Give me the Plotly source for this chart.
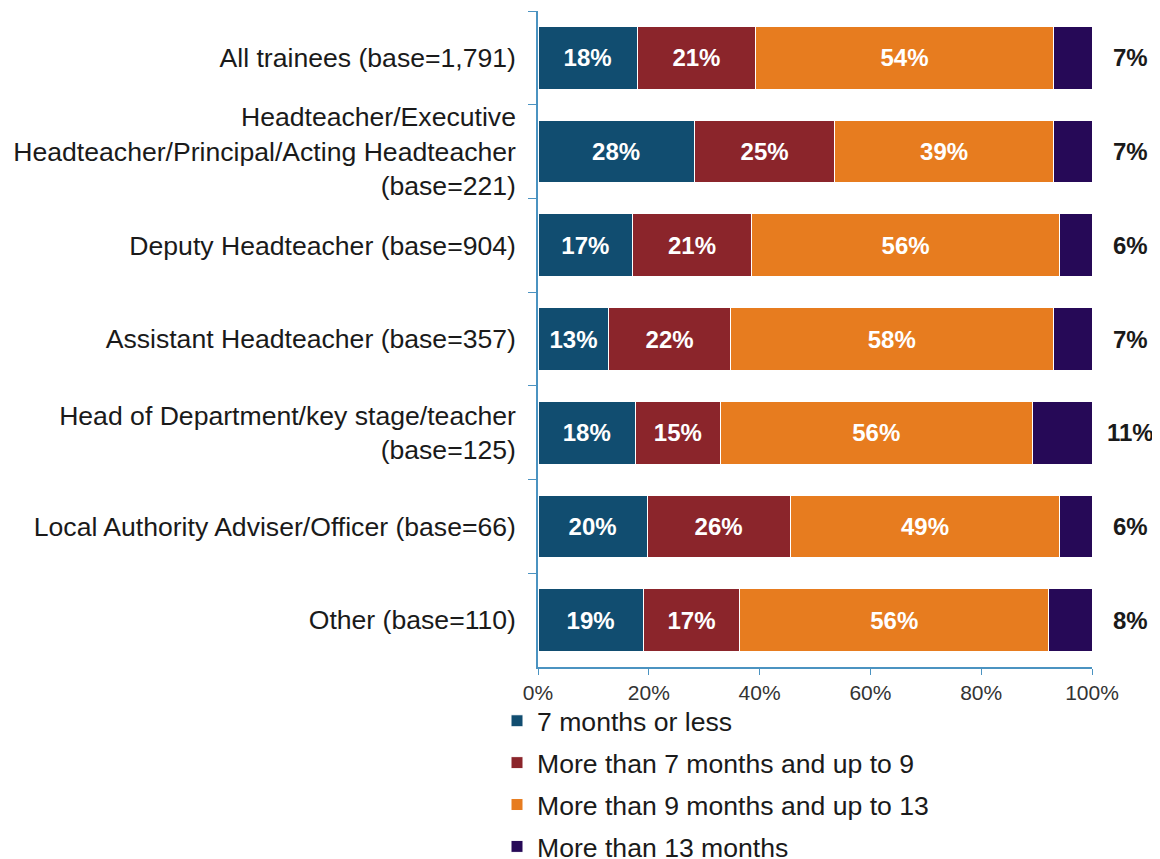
import plotly.graph_objects as go

categories = [
    "All trainees (base=1,791)",
    "Headteacher/Executive<br>Headteacher/Principal/Acting Headteacher<br>(base=221)",
    "Deputy Headteacher (base=904)",
    "Assistant Headteacher (base=357)",
    "Head of Department/key stage/teacher<br>(base=125)",
    "Local Authority Adviser/Officer (base=66)",
    "Other (base=110)",
]
series_names = [
    "7 months or less",
    "More than 7 months and up to 9",
    "More than 9 months and up to 13",
    "More than 13 months",
]
s1 = [17.9, 28.2, 17.1, 12.8, 17.6, 19.7, 19.0]
s2 = [21.4, 25.4, 21.4, 21.9, 15.3, 25.8, 17.4]
s3 = [53.7, 39.4, 55.7, 58.3, 56.3, 48.7, 55.8]
s4 = [7.0, 7.0, 5.8, 7.0, 10.8, 5.8, 7.8]
colors = ["#114D70", "#8B252B", "#E77C1F", "#260957"]
x_ticks = [0, 20, 40, 60, 80, 100]
x_tick_labels = ["0%", "20%", "40%", "60%", "80%", "100%"]

FONT = "Liberation Sans, Arial, sans-serif"
fig = go.Figure()
for i, (name, vals) in enumerate(zip(series_names, [s1, s2, s3, s4])):
    inside = i < 3
    fig.add_trace(go.Bar(
        y=categories, x=vals, name=name, orientation="h",
        marker=dict(color=colors[i], line=dict(color="white", width=1)),
        texttemplate="%{x:.0f}%" if inside else None,
        textposition="inside" if inside else "none",
        insidetextanchor="middle",
        textfont=dict(family=FONT, size=24, color="white", weight="bold"),
        legendgroup=f"g{i}",
        hoverinfo="skip",
    ))

for cat, v in zip(categories, s4):
    fig.add_annotation(x=1.069, y=cat, xref="paper", yref="y", text=f"{round(v)}%",
                       showarrow=False, xanchor="center", yanchor="middle",
                       font=dict(family=FONT, size=24, color="#1a1a1a", weight="bold"))

fig.update_layout(
    barmode="stack",
    bargap=0.33,
    width=1152, height=851,
    margin=dict(l=530, r=68, t=3, b=192, autoexpand=False),
    plot_bgcolor="white", paper_bgcolor="white",
    font=dict(family=FONT, size=26.6, color="#1a1a1a"),
    showlegend=True,
    legend=dict(
        orientation="v", xref="paper", yref="container",
        x=-0.074, xanchor="left", y=0.1904, yanchor="top",
        bgcolor="rgba(0,0,0,0)",
        font=dict(family=FONT, size=26.6, color="#1a1a1a"),
        tracegroupgap=4.3, traceorder="grouped",
        itemclick=False,
    ),
    xaxis=dict(
        range=[0, 100], tickvals=x_ticks, ticktext=x_tick_labels,
        showgrid=False, zeroline=False, automargin=False,
        showline=True, linecolor="#4B93C1", linewidth=1.5,
        ticks="outside", ticklen=6, tickcolor="#4B93C1",
        tickfont=dict(family=FONT, size=21, color="#333333"),
        ticklabelstandoff=0,
    ),
    yaxis=dict(
        autorange="reversed", showgrid=False, zeroline=False, automargin=False,
        showline=True, linecolor="#4B93C1", linewidth=1.5,
        ticks="outside", ticklen=8, tickcolor="#4B93C1", tickson="boundaries",
        tickfont=dict(family=FONT, size=26.6, color="#1a1a1a"),
        ticklabelstandoff=15,
    ),
)

fig.write_html("out.html")
